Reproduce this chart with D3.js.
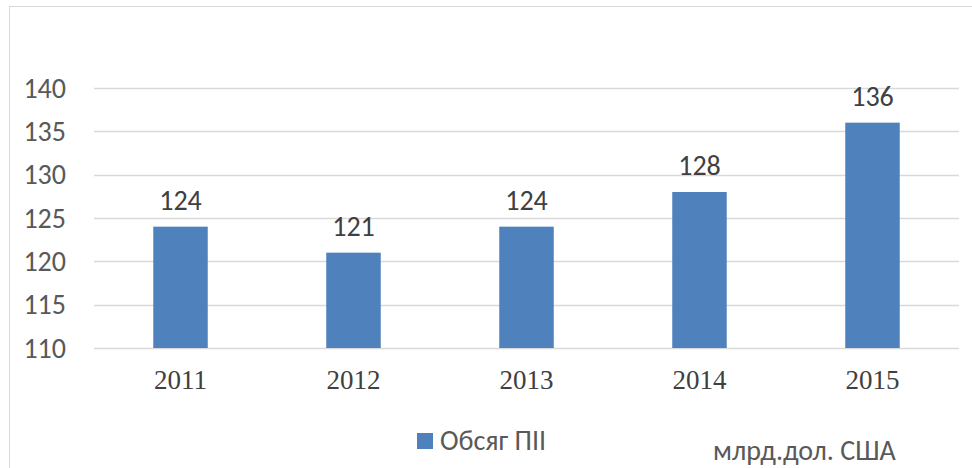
<!DOCTYPE html>
<html>
<head>
<meta charset="utf-8">
<script src="https://cdn.jsdelivr.net/npm/d3@7"></script>
<style>
  body { margin: 0; background: #fff; }
  svg text { font-family: Carlito, Lato, "Open Sans", sans-serif; }
</style>
</head>
<body>
<div id="container"></div>
<script>
/* DATA */
const years = ["2011", "2012", "2013", "2014", "2015"]
const fdiVolume = [124, 121, 124, 128, 136]
const yTicks = [110, 115, 120, 125, 130, 135, 140]
const seriesName = "Обсяг ПІІ"
const unitNote = "млрд.дол. США"

/* CONSTANTS */
const width = 972
const height = 468
const margin = { top: 88, bottom: 120, left: 94, right: 13 }

const svg = d3.select("#container")
  .append("svg")
  .attr("width", width)
  .attr("height", height)

// chart frame
svg.append("rect")
  .attr("x", 9.5)
  .attr("y", 6.5)
  .attr("width", width + 20)
  .attr("height", height + 20)
  .attr("fill", "none")
  .attr("stroke", "#d9d9d9")

// SCALES
const xScale = d3.scaleBand()
  .domain(years)
  .range([margin.left, width - margin.right])
  .paddingInner(0.685)
  .paddingOuter(0.3425)

const yScale = d3.scaleLinear()
  .domain([110, 140])
  .range([height - margin.bottom, margin.top])

// GRIDLINES
svg.append("g")
  .selectAll("line")
  .data(yTicks)
  .join("line")
  .attr("x1", margin.left)
  .attr("x2", width - margin.right)
  .attr("y1", d => Math.round(yScale(d)) + 0.5)
  .attr("y2", d => Math.round(yScale(d)) + 0.5)
  .attr("stroke", "#d9d9d9")
  .attr("stroke-width", 1.5)

// Y AXIS LABELS
const yAxis = d3.axisLeft(yScale).tickValues(yTicks).tickSize(0).tickPadding(0)
const yAxisGroup = svg.append("g")
  .attr("transform", `translate(${66}, 0)`)
  .call(yAxis)
yAxisGroup.select(".domain").remove()
yAxisGroup.selectAll("text")
  .attr("font-size", 28)
  .attr("fill", "#595959")
  .attr("dy", "0.33em")
  .style("font-family", "Carlito, Lato, 'Open Sans', sans-serif")

// X AXIS LABELS
const xAxis = d3.axisBottom(xScale).tickSize(0).tickPadding(0)
const xAxisGroup = svg.append("g")
  .attr("transform", `translate(0, ${height - margin.bottom + 22})`)
  .call(xAxis)
xAxisGroup.select(".domain").remove()
xAxisGroup.selectAll("text")
  .attr("font-size", 27)
  .attr("fill", "#404040")
  .attr("dy", "0.7em")
  .style("font-family", "'Liberation Serif', 'Times New Roman', serif")

// BARS
svg.selectAll(".bar")
  .data(fdiVolume)
  .join("rect")
  .attr("class", "bar")
  .attr("x", (d, i) => xScale(years[i]))
  .attr("y", d => yScale(d))
  .attr("width", xScale.bandwidth())
  .attr("height", d => yScale(110) - yScale(d))
  .attr("fill", "#4f81bd")

// DATA LABELS
svg.selectAll(".label")
  .data(fdiVolume)
  .join("text")
  .attr("class", "label")
  .attr("x", (d, i) => xScale(years[i]) + xScale.bandwidth() / 2)
  .attr("y", d => yScale(d) - 17)
  .attr("text-anchor", "middle")
  .attr("font-size", 28)
  .attr("fill", "#404040")
  .text(d => d)

// LEGEND
svg.append("rect")
  .attr("x", 417)
  .attr("y", 433)
  .attr("width", 16)
  .attr("height", 16)
  .attr("fill", "#4f81bd")

svg.append("text")
  .attr("x", 440)
  .attr("y", 450)
  .attr("font-size", 28)
  .attr("fill", "#595959")
  .text(seriesName)

svg.append("text")
  .attr("x", 713)
  .attr("y", 460)
  .attr("font-size", 28)
  .attr("fill", "#595959")
  .text(unitNote)
</script>
</body>
</html>
